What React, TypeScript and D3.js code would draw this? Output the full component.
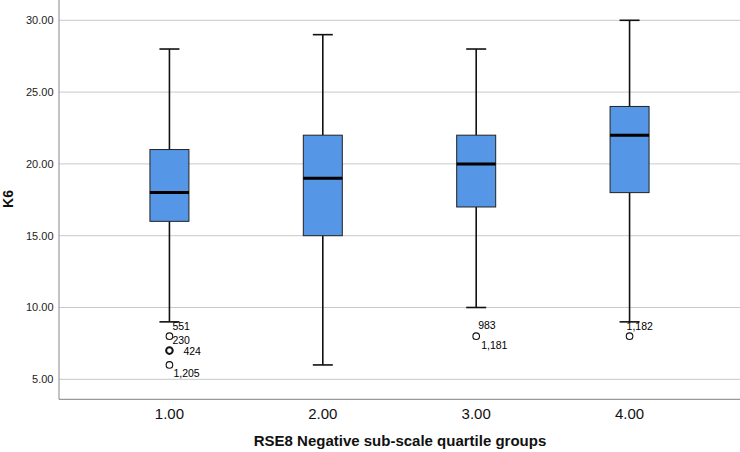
import React from "react";
import * as d3 from "d3";

const categories = ["1.00", "2.00", "3.00", "4.00"];
const whiskerLow = [9, 6, 10, 9];
const q1 = [16, 15, 17, 18];
const median = [18, 19, 20, 22];
const q3 = [21, 22, 22, 24];
const whiskerHigh = [28, 29, 28, 30];
const yTicks = [5, 10, 15, 20, 25, 30];

// outliers: category index, value, bold (overlapping cases)
const outlierCat = [0, 0, 0, 2, 3];
const outlierVal = [8, 7, 6, 8, 8];
const outlierBold = [false, true, false, false, false];

// case labels: category index, value, text
const labelCat = [0, 0, 0, 0, 2, 2, 3];
const labelVal = [8, 8, 7, 6, 8, 8, 8];
const labelText = ["551", "230", "424", "1,205", "983", "1,181", "1,182"];
// label placement offsets relative to the point (layout only)
const labelDx = [3, 3, 14, 4, 2, 5, -3];
const labelDy = [-10, 4, 1, 8, -11, 9, -10];

const W = 740;
const H = 452;
const left = 59;
const right = 740;
const axisY = 399.3;

export default function App() {
  const x = d3.scalePoint<string>().domain(categories).range([left, right]).padding(0.72);
  const y = d3.scaleLinear().domain([5, 30]).range([379.3, 20.3]);
  const boxW = 39;
  const capW = 20;
  const font = "'Liberation Sans', Arial, Helvetica, sans-serif";

  return (
    <svg
      width={W}
      height={H}
      style={{ position: "absolute", left: 0, top: 0, background: "#fff" }}
      fontFamily={font}
    >
      <rect x={0} y={0} width={W} height={H} fill="#fff" />
      {/* gridlines */}
      {yTicks.map((t) => (
        <line key={"g" + t} x1={left} x2={right} y1={y(t)} y2={y(t)} stroke="#c9c9c9" strokeWidth={1} />
      ))}
      {/* y tick labels */}
      {yTicks.map((t) => (
        <text key={"yt" + t} x={53.5} y={y(t)} dy="0.35em" textAnchor="end" fontSize={11} fill="#222">
          {d3.format(".2f")(t)}
        </text>
      ))}
      {/* axes */}
      <line x1={left} x2={left} y1={0} y2={axisY} stroke="#888" strokeWidth={1} />
      <line x1={left} x2={right} y1={axisY} y2={axisY} stroke="#999" strokeWidth={1.2} />

      {/* boxes */}
      {categories.map((c, i) => {
        const cx = x(c) as number;
        return (
          <g key={"b" + c}>
            <line x1={cx} x2={cx} y1={y(whiskerHigh[i])} y2={y(q3[i])} stroke="#111" strokeWidth={1.6} />
            <line x1={cx} x2={cx} y1={y(q1[i])} y2={y(whiskerLow[i])} stroke="#111" strokeWidth={1.6} />
            <line x1={cx - capW / 2} x2={cx + capW / 2} y1={y(whiskerHigh[i])} y2={y(whiskerHigh[i])} stroke="#111" strokeWidth={1.6} />
            <line x1={cx - capW / 2} x2={cx + capW / 2} y1={y(whiskerLow[i])} y2={y(whiskerLow[i])} stroke="#111" strokeWidth={1.6} />
            <rect
              x={cx - boxW / 2}
              y={y(q3[i])}
              width={boxW}
              height={y(q1[i]) - y(q3[i])}
              fill="#5596e6"
              stroke="#222"
              strokeWidth={1}
            />
            <line x1={cx - boxW / 2} x2={cx + boxW / 2} y1={y(median[i])} y2={y(median[i])} stroke="#000" strokeWidth={3} />
          </g>
        );
      })}

      {/* outliers */}
      {outlierCat.map((ci, k) => (
        <circle
          key={"o" + k}
          cx={x(categories[ci]) as number}
          cy={y(outlierVal[k])}
          r={3.3}
          fill="#fff"
          stroke="#111"
          strokeWidth={outlierBold[k] ? 2 : 1.1}
        />
      ))}
      {labelCat.map((ci, k) => (
        <text
          key={"l" + k}
          x={(x(categories[ci]) as number) + labelDx[k]}
          y={y(labelVal[k]) + labelDy[k]}
          dy="0.35em"
          fontSize={10.5}
          fill="#000"
        >
          {labelText[k]}
        </text>
      ))}

      {/* x tick labels */}
      {categories.map((c) => (
        <text key={"xt" + c} x={x(c) as number} y={414} dy="0.35em" textAnchor="middle" fontSize={15} fill="#111">
          {c}
        </text>
      ))}

      {/* axis titles */}
      <text x={400} y={441} dy="0.35em" textAnchor="middle" fontSize={15} fontWeight="bold" fill="#111">
        RSE8 Negative sub-scale quartile groups
      </text>
      <text
        transform={`translate(8,199) rotate(-90)`}
        dy="0.35em"
        textAnchor="middle"
        fontSize={14}
        fontWeight="bold"
        fill="#111"
      >
        K6
      </text>
    </svg>
  );
}
